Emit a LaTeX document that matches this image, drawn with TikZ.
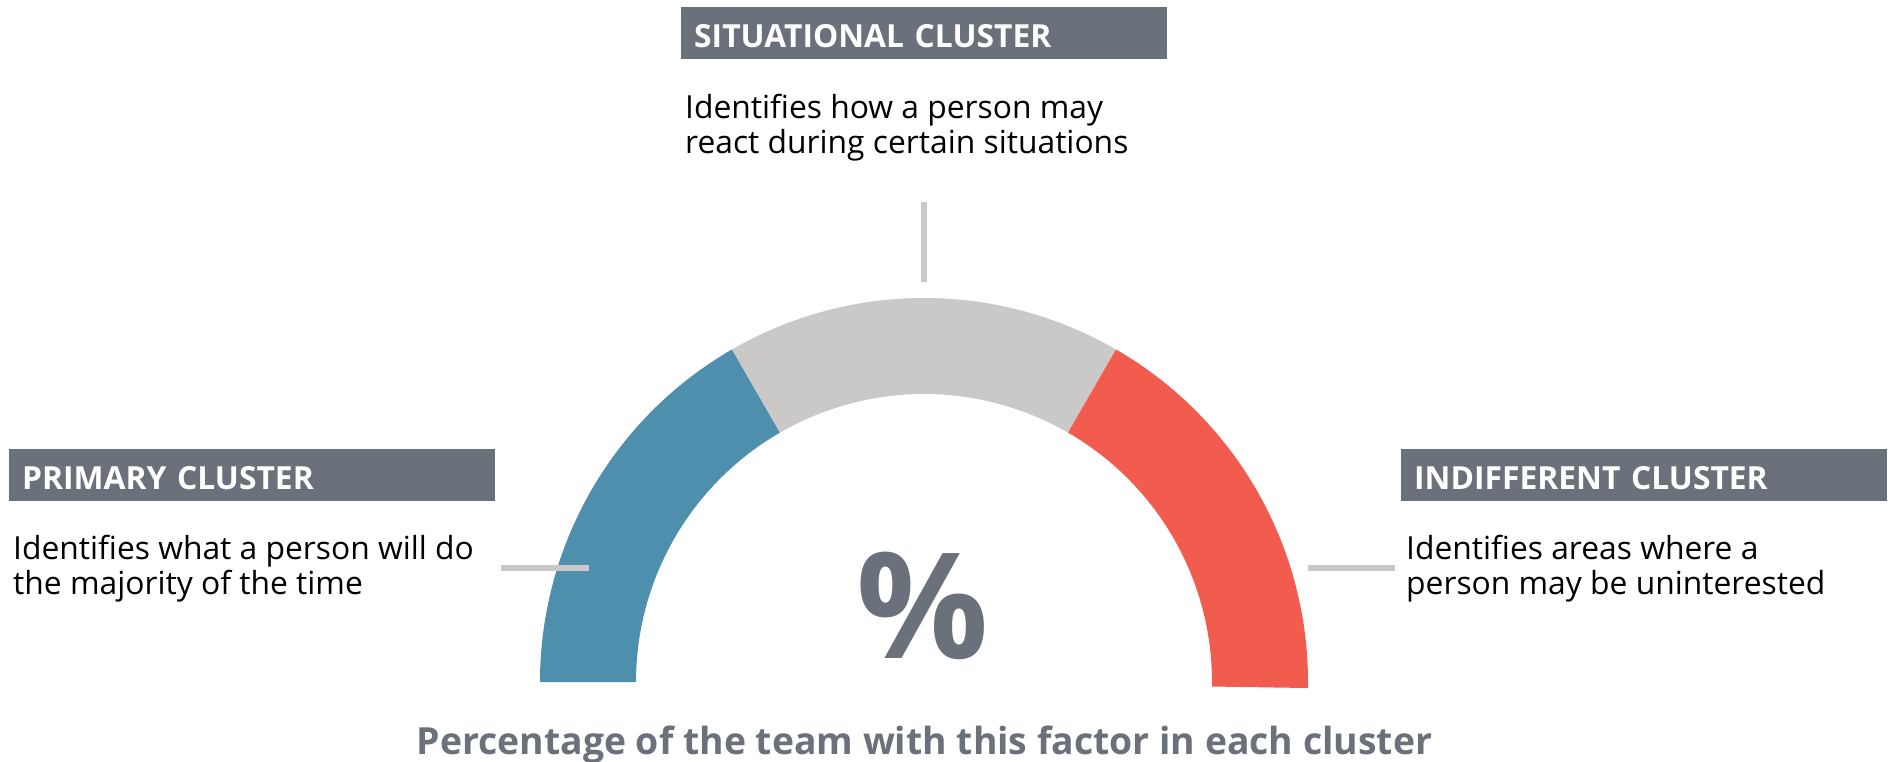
\documentclass[tikz,border=0pt]{standalone}
\usepackage{fontspec}
\setmainfont{Open Sans}
\usetikzlibrary{calc}
\definecolor{boxgray}{HTML}{6B717B}
\definecolor{segblue}{HTML}{4D8FAC}
\definecolor{seggray}{HTML}{CAC9C7}
\definecolor{segred}{HTML}{F15C4F}
\definecolor{tickgray}{HTML}{C9C9C9}
\begin{document}
\begin{tikzpicture}[x=1pt,y=-1pt,
  header/.style={fill=boxgray, text=white, anchor=north west, inner xsep=13pt, inner ysep=0pt,
    text width=460pt, align=left, text height=40pt, text depth=12pt,
    font=\fontsize{31.8}{35}\selectfont\bfseries},
  desc/.style={anchor=base west, inner sep=0pt, align=left, text=black,
    font=\fontsize{31.8}{35}\selectfont},
  tickline/.style={draw=tickgray, line width=6pt}]
\useasboundingbox (0,0) rectangle (1893,762);
\coordinate (c) at (924,682);
\def\Ro{384}\def\Ri{288}
% gauge segments
\fill[segblue] ($(c)+(-180:\Ro)$) arc[start angle=-180, end angle=-120, radius=\Ro]
  -- ($(c)+(-120:\Ri)$) arc[start angle=-120, end angle=-180, radius=\Ri] -- cycle;
\fill[seggray] ($(c)+(-120:\Ro)$) arc[start angle=-120, end angle=-60, radius=\Ro]
  -- ($(c)+(-60:\Ri)$) arc[start angle=-60, end angle=-120, radius=\Ri] -- cycle;
\fill[segred] ($(c)+(-60:\Ro)$) arc[start angle=-60, end angle=0.9, radius=\Ro]
  -- ($(c)+(0.9:\Ri)$) arc[start angle=0.9, end angle=-60, radius=\Ri] -- cycle;
% headers
\node[header] (hsit) at (681,7) {SITUATIONAL CLUSTER};
\node[header] (hpri) at (9,449) {PRIMARY CLUSTER};
\node[header] (hind) at (1401,449) {INDIFFERENT CLUSTER};
% descriptions (anchor = baseline of last line)
\node[desc] (dsit) at (685,153.5) {Identifies how a person may\\react during certain situations};
\node[desc] (dpri) at (13,594) {Identifies what a person will do\\the majority of the time};
\node[desc] (dind) at (1406,594) {Identifies areas where a\\person may be uninterested};
% ticks
\coordinate (t1a) at (924,202); \coordinate (t1b) at (924,282);
\coordinate (t2a) at (501,567.5); \coordinate (t2b) at (589,567.5);
\coordinate (t3a) at (1308,567.5); \coordinate (t3b) at (1395,567.5);
\draw[tickline] (t1a) -- (t1b);
\draw[tickline] (t2a) -- (t2b);
\draw[tickline] (t3a) -- (t3b);
% percent sign
\node[anchor=base, inner sep=0pt, text=boxgray, font=\fontsize{147}{147}\selectfont\bfseries] (pct) at (922.5,658) {\%};
% caption
\node[anchor=base, inner sep=0pt, text=boxgray, font=\fontsize{37.35}{42}\selectfont\bfseries] (cap) at (924.5,754.5) {Percentage of the team with this factor in each cluster};
\end{tikzpicture}
\end{document}
